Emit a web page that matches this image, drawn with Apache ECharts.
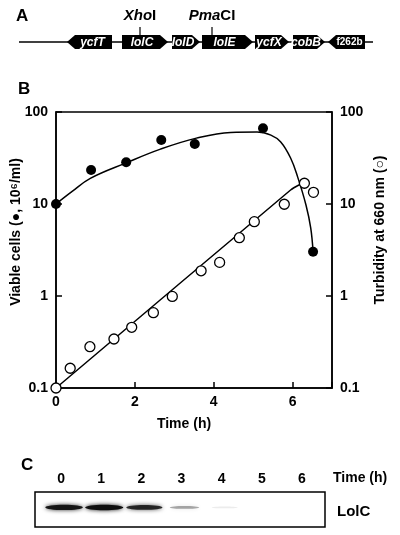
<!DOCTYPE html>
<html><head><meta charset="utf-8">
<script src="https://cdn.jsdelivr.net/npm/echarts@6/dist/echarts.min.js"></script>
<style>html,body{margin:0;padding:0;background:#fff}#c{width:400px;height:535px}</style>
</head><body><div id="c"></div>
<script>
// ---- Panel A: gene map (map units along the locus) ----
const geneNames  = ['ycfT','lolC','lolD','lolE','ycfX','cobB','f262b'];
const geneStart  = [48,103,153,183,236,274,309];
const geneEnd    = [93,149,181,234,270,306,346];
const geneStrand = [-1,1,1,1,1,1,-1];
const mapLength  = 354;
const siteItalic = ['Xho','Pma'];
const siteSuffix = ['I','CI'];
const sitePos    = [121,193];

// ---- Panel B: growth data ----
const viableTime  = [0, 0.89, 1.78, 2.67, 3.52, 5.25, 6.52];
const viableCells = [10, 23.4, 28.4, 49.6, 44.9, 66.5, 3.03];
const viableFitTime = [0, 0.41, 0.87, 1.78, 2.65, 3.56, 4.43, 5.10, 5.45, 5.70, 5.95, 6.13, 6.34, 6.46, 6.52];
const viableFitVal  = [10, 13.7, 19.0, 28.0, 39.5, 52, 60.0, 60.6, 56, 47.2, 31.6, 19.6, 9.75, 5.5, 3.03];
const turbTime  = [0, 0.36, 0.86, 1.47, 1.92, 2.47, 2.95, 3.68, 4.15, 4.65, 5.03, 5.79, 6.30, 6.53];
const turbidity = [0.1, 0.164, 0.281, 0.341, 0.457, 0.659, 0.99, 1.88, 2.32, 4.3, 6.43, 9.94, 16.8, 13.4];
const turbFitTime = [0, 5.95, 6.16, 6.26];
const turbFitVal  = [0.1, 14.2, 16.1, 16.6];
const timeMax = 7;
const timeStep = 2;
const logMin = 0.1, logMax = 100;

// ---- Panel C: western blot ----
const blotLanes = ['0','1','2','3','4','5','6'];
const lolcIntensity = [0.95, 1.0, 0.85, 0.35, 0.08, 0, 0];

const FF = '"Liberation Sans", Arial, Helvetica, sans-serif';
const BLK = '#000';

const chart = echarts.init(document.getElementById('c'), null, {renderer:'canvas'});

function pairs(a,b){ return a.map((v,i)=>[v,b[i]]); }
const lineStyleAx = {color:BLK, width:1.5};
const tickLab = {color:BLK, fontFamily:FF, fontWeight:'bold', fontSize:14};
const logFmt = v => v < 1 ? (+v).toFixed(1) : String(Math.round(v));

const option = {
  animation:false,
  backgroundColor:'#fff',
  grid:[
    {left:19, top:35, width:354, height:14, outerBoundsMode:'none', containLabel:false},
    {left:56, top:112, width:276, height:276, show:true, borderColor:BLK, borderWidth:1.5,
     backgroundColor:'transparent', outerBoundsMode:'none', containLabel:false},
    {left:41, top:492, width:281, height:35, outerBoundsMode:'none', containLabel:false}
  ],
  xAxis:[
    {gridIndex:0, type:'value', min:0, max:mapLength, show:false},
    {gridIndex:1, type:'value', min:0, max:timeMax, interval:timeStep,
     axisLine:{show:true, lineStyle:lineStyleAx},
     axisTick:{show:true, inside:true, length:6, lineStyle:lineStyleAx},
     axisLabel:Object.assign({margin:7, formatter:v=> (v % timeStep === 0 ? String(v) : '')}, tickLab),
     splitLine:{show:false},
     name:'Time (h)', nameLocation:'middle', nameGap:29, nameMoveOverlap:false,
     nameTextStyle:{color:BLK, fontFamily:FF, fontWeight:'bold', fontSize:14, padding:[0,20,0,0]}},
    {gridIndex:2, type:'category', data:blotLanes, position:'top',
     axisLine:{show:false}, axisTick:{show:false},
     axisLabel:Object.assign({margin:6}, tickLab)}
  ],
  yAxis:[
    {gridIndex:0, type:'value', min:0, max:1, show:false},
    {gridIndex:1, type:'log', logBase:10, min:logMin, max:logMax, position:'left',
     axisLine:{show:true, lineStyle:lineStyleAx},
     axisTick:{show:true, inside:true, length:6, lineStyle:lineStyleAx},
     axisLabel:Object.assign({margin:8, formatter:logFmt}, tickLab),
     splitLine:{show:false},
     name:'Viable cells (●, 10⁶/ml)', nameLocation:'middle', nameGap:33, nameMoveOverlap:false,
     nameTextStyle:{color:BLK, fontFamily:FF, fontWeight:'bold', fontSize:14, padding:[0,0,0,36]}},
    {gridIndex:1, type:'log', logBase:10, min:logMin, max:logMax, position:'right',
     axisLine:{show:true, lineStyle:lineStyleAx},
     axisTick:{show:true, inside:true, length:6, lineStyle:lineStyleAx},
     axisLabel:Object.assign({margin:8, formatter:logFmt}, tickLab),
     splitLine:{show:false},
     name:'Turbidity at 660 nm (○)', nameLocation:'middle', nameGap:41, nameMoveOverlap:false,
     nameTextStyle:{color:BLK, fontFamily:FF, fontWeight:'bold', fontSize:14, padding:[0,0,0,40]}},
    {gridIndex:2, type:'value', min:0, max:1, show:false}
  ],
  series:[
    {type:'line', xAxisIndex:0, yAxisIndex:0, data:[[0,0.5],[mapLength,0.5]], symbol:'none',
     lineStyle:{color:BLK, width:1.5}, silent:true, z:1},
    {type:'custom', xAxisIndex:0, yAxisIndex:0, z:2, silent:true,
     data: geneNames.map((n,i)=>[geneStart[i], geneEnd[i], geneStrand[i], i]),
     renderItem:function(params, api){
       const a = api.coord([api.value(0), 1]);
       const b = api.coord([api.value(1), 0]);
       const x0=a[0], x1=b[0], top=a[1], bot=b[1], yc=(top+bot)/2;
       const head = 8, dir = api.value(2);
       let pts, cx;
       if (dir>0){ pts=[[x0,top],[x1-head,top],[x1,yc],[x1-head,bot],[x0,bot]]; cx=(x0+x1-head)/2+1; }
       else { pts=[[x0,yc],[x0+head,top],[x1,top],[x1,bot],[x0+head,bot]]; cx=(x0+head+x1)/2-1; }
       const name = geneNames[api.value(3)];
       const small = name === 'f262b';
       return {type:'group', children:[
         {type:'polygon', shape:{points:pts}, style:{fill:BLK}},
         {type:'text', x:cx, y:yc+0.5, style:{text:name, fill:'#fff', fontFamily:FF, fontWeight:'bold',
           fontStyle: small ? 'normal' : 'italic', fontSize: small ? 10 : 12, align:'center', verticalAlign:'middle'}}
       ]};
     }},
    {type:'custom', xAxisIndex:0, yAxisIndex:0, z:3, silent:true,
     data: sitePos.map((p,i)=>[p,i]),
     renderItem:function(params, api){
       const p = api.coord([api.value(0), 1]);
       const i = api.value(1);
       return {type:'group', children:[
         {type:'line', shape:{x1:p[0], y1:p[1]-8, x2:p[0], y2:p[1]}, style:{stroke:BLK, lineWidth:1.2}},
         {type:'text', x:p[0], y:p[1]-19, style:{text:'{i|'+siteItalic[i]+'}{n|'+siteSuffix[i]+'}',
           align:'center', verticalAlign:'middle',
           rich:{i:{fontFamily:FF, fontWeight:'bold', fontStyle:'italic', fontSize:15, fill:BLK},
                 n:{fontFamily:FF, fontWeight:'bold', fontSize:15, fill:BLK}}}}
       ]};
     }},
    {type:'line', xAxisIndex:1, yAxisIndex:1, data:pairs(viableFitTime, viableFitVal), symbol:'none', smooth:0.4,
     lineStyle:{color:BLK, width:1.5}, z:3, silent:true},
    {type:'line', xAxisIndex:1, yAxisIndex:2, data:pairs(turbFitTime, turbFitVal), symbol:'none', smooth:0.2,
     lineStyle:{color:BLK, width:1.5}, z:3, silent:true},
    {type:'scatter', xAxisIndex:1, yAxisIndex:1, data:pairs(viableTime, viableCells), symbol:'circle', symbolSize:10,
     itemStyle:{color:BLK, opacity:1}, z:5, silent:true},
    {type:'scatter', xAxisIndex:1, yAxisIndex:2, data:pairs(turbTime, turbidity), symbol:'circle', symbolSize:10,
     itemStyle:{color:'#fff', borderColor:BLK, borderWidth:1.3, opacity:1}, z:6, silent:true},
    {type:'custom', xAxisIndex:2, yAxisIndex:3, z:4, silent:true,
     data: blotLanes.map((l,i)=>[i, lolcIntensity[i]]),
     renderItem:function(params, api){
       const I = api.value(1);
       if (!(I > 0)) return null;
       const c = api.coord([api.value(0), 0.56]);
       const lane = api.size([1,0])[0];
       const w = lane*(0.62+0.33*I), h = 1.5+4*I;
       return {type:'ellipse', shape:{cx:c[0]+3, cy:c[1], rx:w/2, ry:h/2},
         style:{fill:'rgba(15,15,15,'+I+')', shadowBlur:4, shadowColor:'rgba(0,0,0,'+(0.9*I)+')'}};
     }}
  ],
  graphic:[
    {type:'text', left:16, top:8, style:{text:'A', fill:BLK, font:'bold 17px '+FF}},
    {type:'text', left:18, top:81, style:{text:'B', fill:BLK, font:'bold 17px '+FF}},
    {type:'text', left:21, top:457, style:{text:'C', fill:BLK, font:'bold 17px '+FF}},
    {type:'rect', shape:{x:35, y:492, width:290, height:35}, style:{fill:'none', stroke:BLK, lineWidth:1.5}},
    {type:'text', left:333, top:471, style:{text:'Time (h)', fill:BLK, font:'bold 14px '+FF}},
    {type:'text', left:337, top:504, style:{text:'LolC', fill:BLK, font:'bold 15px '+FF}}
  ]
};
chart.setOption(option);
</script>
</body></html>
